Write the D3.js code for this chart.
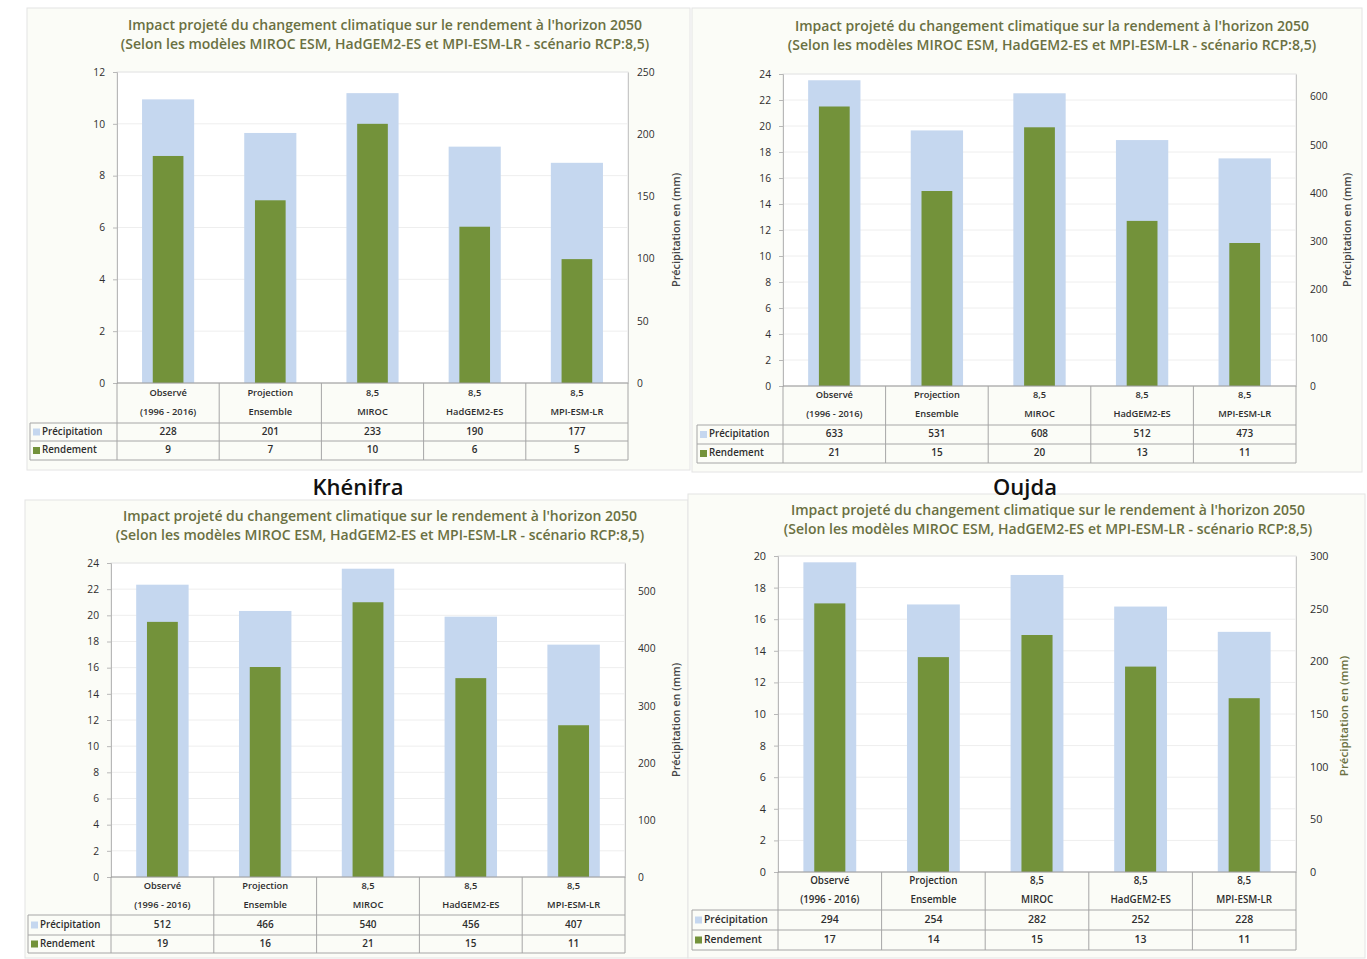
<!DOCTYPE html>
<html><head><meta charset="utf-8">
<script src="https://cdn.jsdelivr.net/npm/d3@7"></script>
<style>body{margin:0;background:#fff}svg{display:block}</style>
</head><body><svg id="c" width="1367" height="959"></svg>
<script>
// ---------- data ----------
const categories = [["Observé","(1996 - 2016)"],["Projection","Ensemble"],["8,5","MIROC"],["8,5","HadGEM2-ES"],["8,5","MPI-ESM-LR"]];
const titleLine1 = "Impact projeté du changement climatique sur le rendement à l'horizon 2050";
const titleLine1b = "Impact projeté du changement climatique sur la rendement à l'horizon 2050";
const titleLine2 = "(Selon les modèles MIROC ESM, HadGEM2-ES et MPI-ESM-LR - scénario RCP:8,5)";
const rightAxisTitle = "Précipitation en (mm)";
const rowNames = ["Précipitation", "Rendement"];
const cityLabels = ["Khénifra", "Oujda"];

// top-left
const precipA = [228, 201, 233, 190, 177];
const rendA = [8.76, 7.05, 10.0, 6.03, 4.78];
const precipLabelsA = ["228", "201", "233", "190", "177"];
const rendLabelsA = ["9", "7", "10", "6", "5"];
const leftTicksA = [0, 2, 4, 6, 8, 10, 12];
const rightTicksA = [0, 50, 100, 150, 200, 250];

// top-right
const precipB = [634, 530, 607, 510, 472];
const rendB = [21.5, 15.0, 19.9, 12.7, 11.0];
const precipLabelsB = ["633", "531", "608", "512", "473"];
const rendLabelsB = ["21", "15", "20", "13", "11"];
const leftTicksB = [0, 2, 4, 6, 8, 10, 12, 14, 16, 18, 20, 22, 24];
const rightTicksB = [0, 100, 200, 300, 400, 500, 600];

// bottom-left
const precipC = [512, 466, 540, 456, 407];
const rendC = [19.5, 16.05, 21.0, 15.2, 11.6];
const precipLabelsC = ["512", "466", "540", "456", "407"];
const rendLabelsC = ["19", "16", "21", "15", "11"];
const leftTicksC = [0, 2, 4, 6, 8, 10, 12, 14, 16, 18, 20, 22, 24];
const rightTicksC = [0, 100, 200, 300, 400, 500];

// bottom-right (Oujda)
const precipD = [294, 254, 282, 252, 228];
const rendD = [17.0, 13.6, 15.0, 13.0, 11.0];
const precipLabelsD = ["294", "254", "282", "252", "228"];
const rendLabelsD = ["17", "14", "15", "13", "11"];
const leftTicksD = [0, 2, 4, 6, 8, 10, 12, 14, 16, 18, 20];
const rightTicksD = [0, 50, 100, 150, 200, 250, 300];

// ---------- layout ----------
const panels = [
  {precip: precipA, rend: rendA, pl: precipLabelsA, rl: rendLabelsA, lt: leftTicksA, rt: rightTicksA, lmax: 12, rmax: 250, t1: titleLine1,
   bg:[27,8,663,462], left:117, right:628, top:72, bottom:383, hdr:423, r1:441, r2:460, legL:30, tx:385, ty:26, rlx:637, atx:677, aty:230, fs:0.95},
  {precip: precipB, rend: rendB, pl: precipLabelsB, rl: rendLabelsB, lt: leftTicksB, rt: rightTicksB, lmax: 24, rmax: 647, t1: titleLine1b,
   bg:[692,8,670,464], left:783, right:1296, top:74, bottom:386, hdr:425, r1:444, r2:463, legL:697, tx:1052, ty:27, rlx:1310, atx:1348, aty:230, fs:0.95},
  {precip: precipC, rend: rendC, pl: precipLabelsC, rl: rendLabelsC, lt: leftTicksC, rt: rightTicksC, lmax: 24, rmax: 550, t1: titleLine1,
   bg:[25,500,663,458], left:111, right:625, top:563, bottom:877, hdr:915, r1:935, r2:953, legL:28, tx:380, ty:517, rlx:638, atx:677, aty:720, fs:0.95},
  {precip: precipD, rend: rendD, pl: precipLabelsD, rl: rendLabelsD, lt: leftTicksD, rt: rightTicksD, lmax: 20, rmax: 300, t1: titleLine1,
   bg:[688,494,677,464], left:778, right:1296, top:556, bottom:872, hdr:910, r1:930, r2:950, legL:692, tx:1048, ty:511, rlx:1310, atx:1345, aty:716, fs:1}
];

const LIGHT = "#c5d7ef", GREEN = "#73923a", FONT = "'Open Sans', 'Noto Sans', sans-serif";
const TITLE_COL = "#6a7042", TXT = "#2e2e2e", GRID = "#a6a6a6";
const svg = d3.select("#c");

panels.forEach(p => {
  const g = svg.append("g");
  g.append("rect").attr("x", p.bg[0]).attr("y", p.bg[1]).attr("width", p.bg[2]).attr("height", p.bg[3])
    .attr("fill", "#fbfcf7").attr("stroke", "#e4e4e4");

  // title
  [p.t1, titleLine2].forEach((t, i) => {
    g.append("text").attr("x", p.tx).attr("y", p.ty + i * 19).attr("text-anchor", "middle")
      .attr("dominant-baseline", "middle").attr("font-family", FONT).attr("font-size", 14)
      .attr("font-weight", 600).attr("fill", TITLE_COL).text(t);
  });

  const x = d3.scaleBand().domain(d3.range(categories.length)).range([p.left, p.right]).padding(0);
  const yL = d3.scaleLinear().domain([0, p.lmax]).range([p.bottom, p.top]);
  const yR = d3.scaleLinear().domain([0, p.rmax]).range([p.bottom, p.top]);
  const bw = x.bandwidth();

  // plot area
  g.append("rect").attr("x", p.left).attr("y", p.top).attr("width", p.right - p.left).attr("height", p.bottom - p.top)
    .attr("fill", "#fff").attr("stroke", "#e2e2e2");
  g.selectAll(".grid").data(p.lt.slice(1)).join("line")
    .attr("x1", p.left).attr("x2", p.right).attr("y1", d => yL(d)).attr("y2", d => yL(d))
    .attr("stroke", "#eeeeee");

  // bars
  g.selectAll(".pb").data(p.precip).join("rect")
    .attr("x", (d, i) => x(i) + bw / 2 - bw * 0.255).attr("width", bw * 0.51)
    .attr("y", d => yR(d)).attr("height", d => yR(0) - yR(d)).attr("fill", LIGHT);
  g.selectAll(".rb").data(p.rend).join("rect")
    .attr("x", (d, i) => x(i) + bw / 2 - bw * 0.15).attr("width", bw * 0.30)
    .attr("y", d => yL(d)).attr("height", d => yL(0) - yL(d)).attr("fill", GREEN);

  // left axis
  const la = g.append("g").attr("transform", `translate(${p.left},0)`)
    .call(d3.axisLeft(yL).tickValues(p.lt).tickSize(4).tickPadding(8).tickFormat(d3.format("d")));
  la.select(".domain").attr("stroke", "#b8b8b8");
  la.selectAll(".tick line").attr("stroke", "#b8b8b8");
  la.selectAll("text").attr("font-family", FONT).attr("font-size", 10.8 * p.fs).attr("fill", TXT);

  // right axis
  const ra = g.append("g").attr("transform", `translate(${p.right},0)`)
    .call(d3.axisRight(yR).tickValues(p.rt).tickSize(0).tickPadding(p.rlx - p.right).tickFormat(d3.format("d")));
  ra.select(".domain").attr("stroke", "#c8c8c8");
  ra.selectAll("text").attr("font-family", FONT).attr("font-size", 10.8 * p.fs).attr("fill", TXT);

  g.append("text").attr("transform", `translate(${p.atx},${p.aty}) rotate(-90)`).attr("text-anchor", "middle")
    .attr("dominant-baseline", "middle").attr("font-family", FONT).attr("font-size", 11.5 * p.fs)
    .attr("font-weight", 600).attr("fill", p.fs === 1 ? TITLE_COL : "#444").text(rightAxisTitle);

  // data table
  const tl = g.append("g").attr("stroke", GRID).attr("stroke-width", 1);
  tl.append("line").attr("x1", p.left).attr("x2", p.right).attr("y1", p.bottom).attr("y2", p.bottom).attr("stroke", "#9a9a9a");
  [p.hdr, p.r1, p.r2].forEach(yy => tl.append("line").attr("x1", p.legL).attr("x2", p.right).attr("y1", yy).attr("y2", yy));
  tl.append("line").attr("x1", p.legL).attr("x2", p.legL).attr("y1", p.hdr).attr("y2", p.r2);
  d3.range(categories.length + 1).forEach(i => {
    const xx = i < categories.length ? x(i) : p.right;
    tl.append("line").attr("x1", xx).attr("x2", xx).attr("y1", p.bottom).attr("y2", p.r2);
  });

  const hMid = (p.bottom + p.hdr) / 2;
  categories.forEach((c, i) => {
    c.forEach((s, j) => {
      g.append("text").attr("x", x(i) + bw / 2).attr("y", hMid + (j === 0 ? -9.5 : 9.5))
        .attr("text-anchor", "middle").attr("dominant-baseline", "middle")
        .attr("font-family", FONT).attr("font-size", 9.8 * p.fs).attr("font-weight", 600).attr("fill", TXT).text(s);
    });
  });
  [[p.pl, (p.hdr + p.r1) / 2], [p.rl, (p.r1 + p.r2) / 2]].forEach(([labels, yy]) => {
    labels.forEach((s, i) => {
      g.append("text").attr("x", x(i) + bw / 2).attr("y", yy).attr("text-anchor", "middle")
        .attr("dominant-baseline", "middle").attr("font-family", FONT).attr("font-size", 10.5 * p.fs)
        .attr("font-weight", 600).attr("fill", TXT).text(s);
    });
  });
  // legend column
  [[rowNames[0], LIGHT, (p.hdr + p.r1) / 2], [rowNames[1], GREEN, (p.r1 + p.r2) / 2]].forEach(([n, col, yy]) => {
    g.append("rect").attr("x", p.legL + 3).attr("y", yy - 3.5).attr("width", 7).attr("height", 7).attr("fill", col);
    g.append("text").attr("x", p.legL + 12).attr("y", yy).attr("dominant-baseline", "middle")
      .attr("font-family", FONT).attr("font-size", 10.3 * p.fs).attr("font-weight", 600).attr("fill", TXT).text(n);
  });
});

// city labels
[[358, 489, cityLabels[0]], [1025, 489, cityLabels[1]]].forEach(([xx, yy, t]) => {
  svg.append("text").attr("x", xx).attr("y", yy).attr("text-anchor", "middle").attr("dominant-baseline", "middle")
    .attr("font-family", FONT).attr("font-size", 22).attr("font-weight", 600).attr("fill", "#111").text(t);
});
</script></body></html>
